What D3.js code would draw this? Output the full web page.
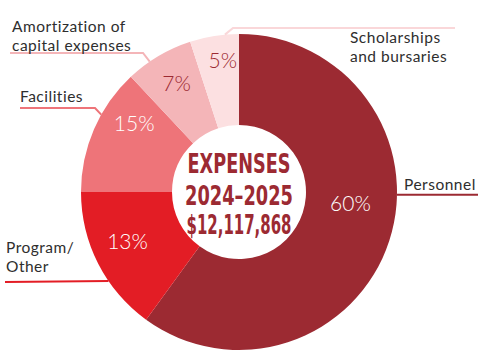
<!DOCTYPE html>
<html>
<head>
<meta charset="utf-8">
<script src="https://cdn.jsdelivr.net/npm/d3@7"></script>
<style>
  html, body { margin: 0; padding: 0; background: #ffffff; }
  svg { display: block; }
</style>
</head>
<body>
<svg id="chart" width="480" height="360"></svg>
<script>
// ---------------- data ----------------
const categories = ["Personnel", "Program/Other", "Facilities", "Amortization of capital expenses", "Scholarships and bursaries"];
// slice shares as drawn in the picture (angular extent of each slice)
const shares = [60, 15, 13, 7, 5];
// percentage texts printed on the slices
const pctLabels = ["60%", "13%", "15%", "7%", "5%"];
const labelLines = [["Personnel"], ["Program/", "Other"], ["Facilities"], ["Amortization of", "capital expenses"], ["Scholarships", "and bursaries"]];
const titleLines = ["EXPENSES", "2024\u20132025", "$12,117,868"];

// ---------------- styles / layout ----------------
const colors = ["#9c2a32", "#e31d25", "#ee7479", "#f4b5b8", "#fce0e1"];
const lineColors = ["#9c2a32", "#e31d25", "#ee7479", "#f4b5b8", "#fad7d9"];
const pctColors = ["#ffffff", "#ffffff", "#ffffff", "#9c2a32", "#9c2a32"];
const cx = 239, cy = 192, R = 158, r0 = 67;
// polar placement of percentage texts: [radius, angle in degrees clockwise from top]
const pctPlace = [[112, 96], [122, 246], [125, 303], [125, 330], [133, 353]];
// category label layout: text x, first baseline, anchor angle on rim, elbow point, end x
const catLayout = [
  { x: 404, y: 190, anchorDeg: 91,    elbow: null,      endX: 478 },
  { x: 6,   y: 253, anchorDeg: 235.7, elbow: null,      endX: 5 },
  { x: 20,  y: 102, anchorDeg: 299.3, elbow: [95, 108], endX: 20 },
  { x: 12,  y: 32,  anchorDeg: 325.6, elbow: [143, 53], endX: 10 },
  { x: 350, y: 43,  anchorDeg: 354.9, elbow: [233, 28], endX: 455 }
];

const svg = d3.select("#chart");
const g = svg.append("g").attr("transform", `translate(${cx},${cy})`);

const pie = d3.pie().sort(null).value(d => d).startAngle(0).endAngle(2 * Math.PI);
const arcs = pie(shares);
const arc = d3.arc().innerRadius(r0).outerRadius(R);

g.selectAll("path.slice")
  .data(arcs)
  .join("path")
  .attr("class", "slice")
  .attr("d", arc)
  .attr("fill", (d, i) => colors[i]);

// percentage labels
const rad = deg => deg * Math.PI / 180;
g.selectAll("text.pct")
  .data(arcs)
  .join("text")
  .attr("class", "pct")
  .attr("x", (d, i) => pctPlace[i][0] * Math.sin(rad(pctPlace[i][1])))
  .attr("y", (d, i) => -pctPlace[i][0] * Math.cos(rad(pctPlace[i][1])))
  .attr("dy", "0.36em")
  .attr("text-anchor", "middle")
  .attr("font-family", "Lato, 'Open Sans', sans-serif")
  .attr("font-weight", 300)
  .attr("font-size", 21)
  .attr("fill", (d, i) => pctColors[i])
  .text((d, i) => pctLabels[i]);

// centre title
const titleWidths = [103, 108, 105];
const titleBase = [-19, 13, 42];
g.selectAll("text.title")
  .data(titleLines)
  .join("text")
  .attr("class", "title")
  .attr("x", 0)
  .attr("y", (d, i) => titleBase[i])
  .attr("text-anchor", "middle")
  .attr("font-family", "'DejaVu Sans Condensed', 'Liberation Sans Narrow', sans-serif")
  .attr("font-stretch", "condensed")
  .attr("font-weight", "bold")
  .attr("font-size", 26)
  .attr("textLength", (d, i) => titleWidths[i])
  .attr("lengthAdjust", "spacingAndGlyphs")
  .attr("fill", "#9c2a32")
  .text(d => d);

// leader lines
const rimPoint = deg => [cx + R * Math.sin(rad(deg)), cy - R * Math.cos(rad(deg))];
const lineGen = d3.line();
svg.selectAll("path.leader")
  .data(catLayout)
  .join("path")
  .attr("class", "leader")
  .attr("d", (L) => {
    const a = rimPoint(L.anchorDeg);
    const pts = [a];
    if (L.elbow) { pts.push(L.elbow); pts.push([L.endX, L.elbow[1]]); }
    else { pts.push([L.endX, a[1] + (L.endX < cx ? 1 : 0)]); }
    return lineGen(pts);
  })
  .attr("fill", "none")
  .attr("stroke", (L, i) => lineColors[i])
  .attr("stroke-width", 2);

// category labels
const catG = svg.selectAll("text.cat")
  .data(catLayout)
  .join("text")
  .attr("class", "cat")
  .attr("font-family", "Lato, 'Open Sans', sans-serif")
  .attr("font-size", 15.5)
  .attr("letter-spacing", 0.5)
  .attr("fill", "#2e2e2e");
catG.selectAll("tspan")
  .data((L, i) => labelLines[i].map((t, k) => ({ t, k, L })))
  .join("tspan")
  .attr("x", d => d.L.x)
  .attr("y", d => d.L.y + d.k * 18.5)
  .text(d => d.t);
</script>
</body>
</html>
